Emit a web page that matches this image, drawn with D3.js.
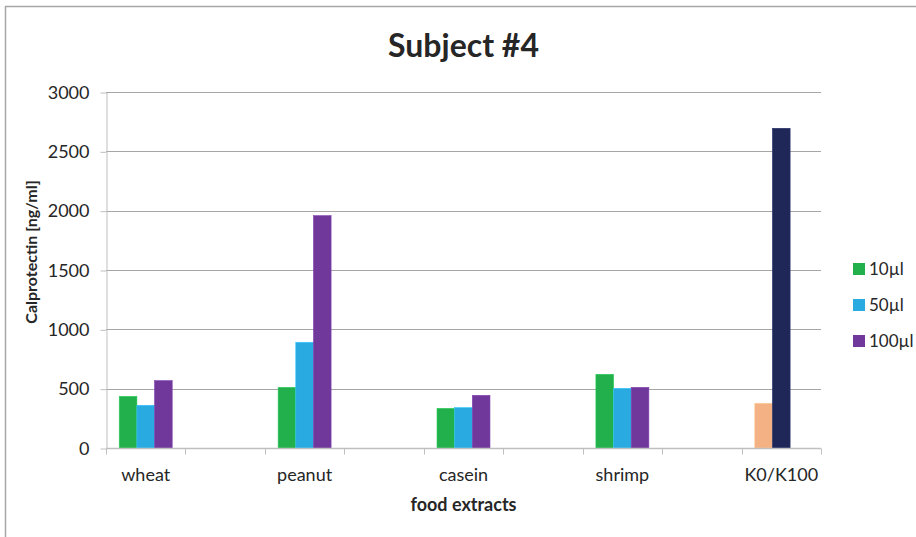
<!DOCTYPE html>
<html>
<head>
<meta charset="utf-8">
<script src="https://cdn.jsdelivr.net/npm/d3@7"></script>
<style>
  html, body { margin: 0; padding: 0; background: #fff; }
  svg { display: block; font-family: Lato, "Open Sans", sans-serif; }
</style>
</head>
<body>
<svg id="chart" width="916" height="537"></svg>
<script>
// ---- data ----
const title = "Subject #4";
const xTitle = "food extracts";
const yTitle = "Calprotectin [ng/ml]";
const categories = ["wheat", "peanut", "casein", "shrimp", "K0/K100"];
const seriesNames = ["10\u00b5l", "50\u00b5l", "100\u00b5l"];
const values10 = [435, 511, 334, 621, 377];
const values50 = [360, 891, 340, 503, 2694];
const values100 = [568, 1958, 444, 511, null];
const seriesColors = ["#21b04b", "#29abe2", "#70389a"];
const controlColors = ["#f4b183", "#1f2759", null]; // per-point colours in K0/K100
const yTicks = [0, 500, 1000, 1500, 2000, 2500, 3000];

// ---- layout ----
const svg = d3.select("#chart");
const plot = { left: 106, right: 821, top: 92, bottom: 448 };
const textColor = "#262626";

// frame
svg.append("path")
  .attr("d", "M5.5,537 V6.5 H916")
  .attr("fill", "none").attr("stroke", "#a6a6a6").attr("stroke-width", 1.5);

// slots: each category followed by an empty slot (except last)
const slots = [];
categories.forEach((c, i) => {
  slots.push({ key: "c" + i, label: c, idx: i });
  if (i < categories.length - 1) slots.push({ key: "s" + i, label: "", idx: -1 });
});

const x = d3.scaleBand().domain(slots.map(s => s.key)).range([plot.left, plot.right]).padding(0);
const xs = d3.scaleBand().domain(d3.range(3)).range([0, x.bandwidth()]).paddingInner(0).paddingOuter(0.75);
const y = d3.scaleLinear().domain([0, 3000]).range([plot.bottom, plot.top]);

// gridlines
svg.append("g").selectAll("line").data(yTicks.filter(t => t > 0)).join("line")
  .attr("x1", plot.left).attr("x2", plot.right)
  .attr("y1", d => Math.round(y(d)) + 0.5).attr("y2", d => Math.round(y(d)) + 0.5)
  .attr("stroke", "#a6a6a6").attr("stroke-width", 1);

// y axis
const yAxis = svg.append("g").attr("transform", `translate(${plot.left + 0.5},0.5)`)
  .call(d3.axisLeft(y).tickValues(yTicks).tickFormat(d3.format("d")).tickSize(6).tickPadding(11).tickSizeOuter(0));
yAxis.select(".domain").attr("stroke", "#bfbfbf");
yAxis.selectAll(".tick line").attr("stroke", "#bfbfbf");
yAxis.selectAll(".tick text").attr("fill", textColor).style("font-size", "18px")
  .style("font-family", "Lato, sans-serif");

// bars
const series = [values10, values50, values100];
const barData = [];
categories.forEach((c, ci) => {
  series.forEach((vals, si) => {
    const v = vals[ci];
    if (v == null) return;
    const over = c === "K0/K100" ? controlColors[si] : null;
    barData.push({ key: "c" + ci, si, v, color: over || seriesColors[si] });
  });
});
svg.append("g").selectAll("rect").data(barData).join("rect")
  .attr("x", d => x(d.key) + xs(d.si))
  .attr("width", xs.bandwidth())
  .attr("y", d => y(d.v))
  .attr("height", d => y(0) - y(d.v))
  .attr("fill", d => d.color)
  .attr("stroke", d => d3.color(d.color).brighter(0.4))
  .attr("stroke-width", 0.6);

// x axis
const xAxisG = svg.append("g").attr("transform", `translate(0,${plot.bottom + 0.5})`);
xAxisG.append("line").attr("x1", plot.left).attr("x2", plot.right)
  .attr("stroke", "#bfbfbf").attr("stroke-width", 1.5);
const boundaries = slots.map(s => x(s.key)).concat([plot.right]);
xAxisG.selectAll("line.tk").data(boundaries).join("line").attr("class", "tk")
  .attr("x1", d => Math.round(d) + 0.5).attr("x2", d => Math.round(d) + 0.5)
  .attr("y1", 0).attr("y2", 6).attr("stroke", "#bfbfbf");
xAxisG.selectAll("text").data(slots.filter(s => s.label)).join("text")
  .attr("x", d => x(d.key) + x.bandwidth() / 2)
  .attr("y", 32)
  .attr("text-anchor", "middle")
  .attr("fill", textColor)
  .style("font-size", "18px")
  .text(d => d.label);

// titles
svg.append("text").attr("x", (plot.left + plot.right) / 2).attr("y", 57)
  .attr("text-anchor", "middle").attr("fill", textColor)
  .style("font-size", "32px").style("font-weight", "bold").text(title);
svg.append("text").attr("x", (plot.left + plot.right) / 2).attr("y", 511)
  .attr("text-anchor", "middle").attr("fill", textColor)
  .style("font-size", "18px").style("font-weight", "bold").text(xTitle);
svg.append("text").attr("transform", "translate(37,252) rotate(-90)")
  .attr("text-anchor", "middle").attr("fill", textColor)
  .style("font-size", "16px").style("font-weight", "bold").text(yTitle);

// legend
const legend = svg.append("g").attr("transform", "translate(853,269)");
seriesNames.forEach((n, i) => {
  const g = legend.append("g").attr("transform", `translate(0,${i * 36})`);
  g.append("rect").attr("x", 0).attr("y", -6).attr("width", 12).attr("height", 12).attr("fill", seriesColors[i]);
  g.append("text").attr("x", 16).attr("y", 6).attr("fill", textColor)
    .style("font-size", "17px").text(n);
});
</script>
</body>
</html>
